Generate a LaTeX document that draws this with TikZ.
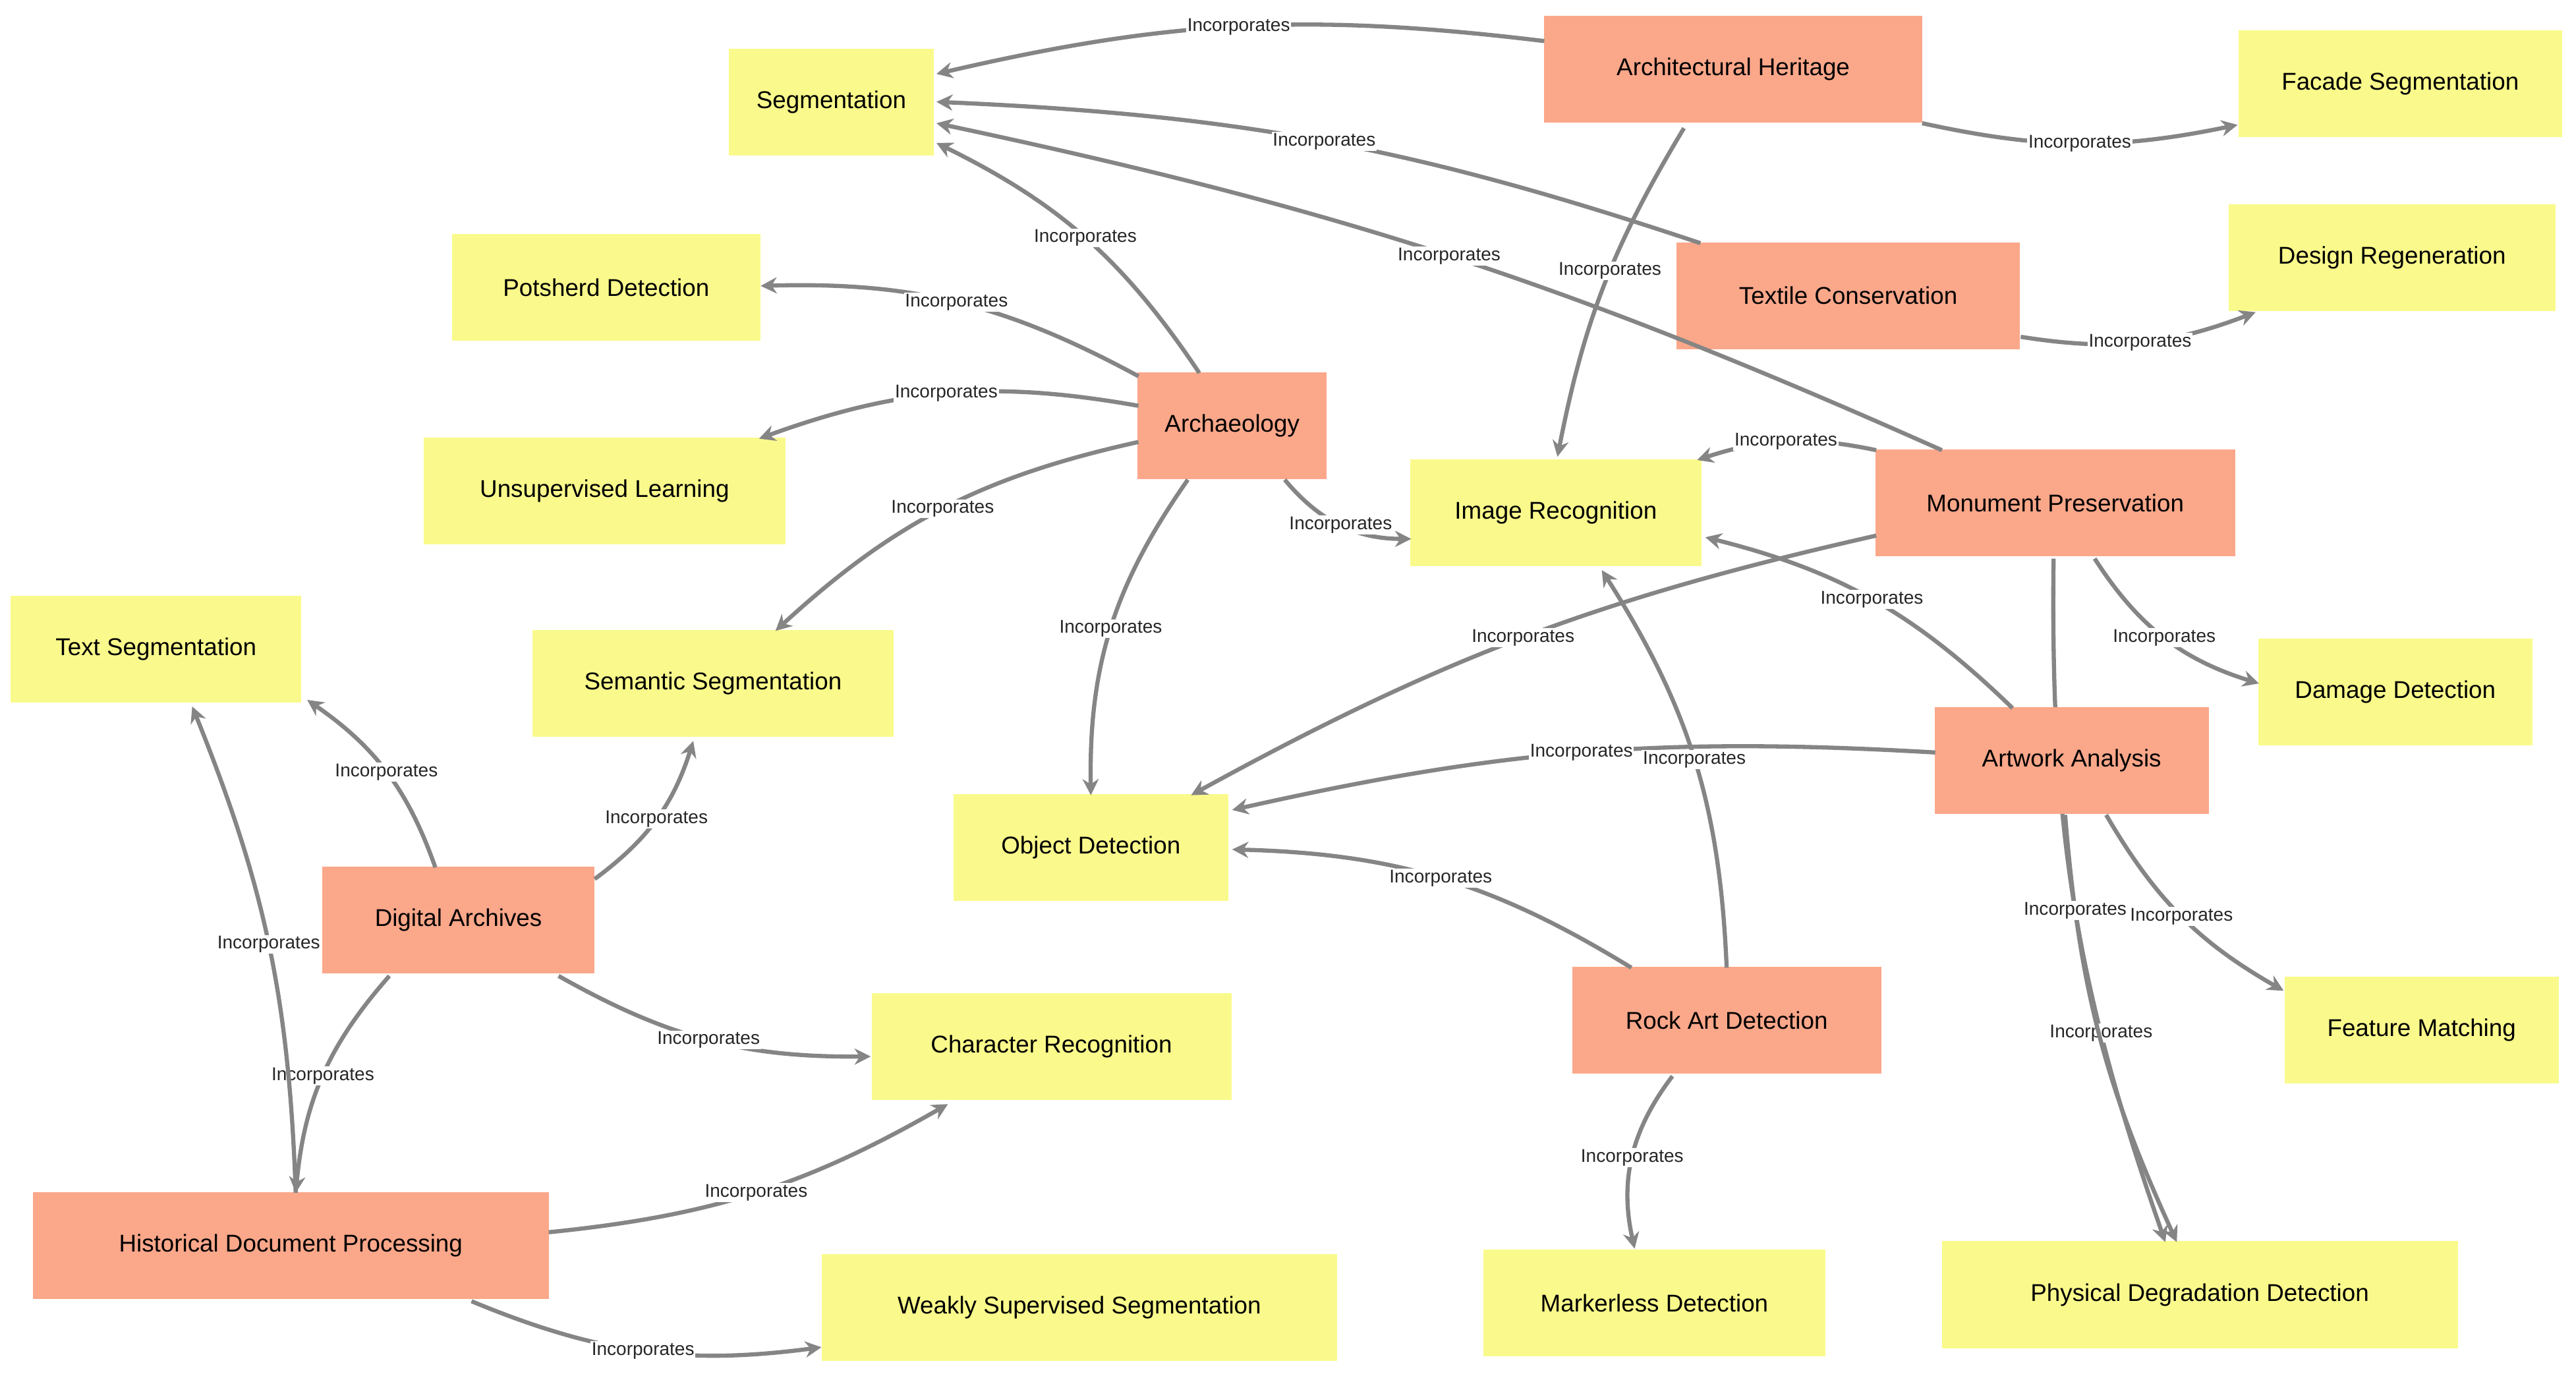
\documentclass[tikz,border=0pt]{standalone}
\usepackage{fontspec}
\setmainfont{Liberation Sans}
\usetikzlibrary{arrows.meta}
\definecolor{ylw}{HTML}{FAFA8C}
\definecolor{slm}{HTML}{FBA78A}
\definecolor{edg}{HTML}{858585}
\begin{document}
\begin{tikzpicture}[x=0.05cm,y=-0.05cm,
  box/.style={draw=none,minimum height=65*0.05cm,font=\fontsize{21}{25}\selectfont,inner sep=0pt},
  con/.style={box,fill=ylw},
  dom/.style={box,fill=slm},
  e/.style={draw=edg,line width=3.6pt,-{Stealth[length=14pt,width=14pt]},bend right=#1},
  e/.default=15,
  lb/.style={fill=white,inner sep=1pt,font=\fontsize{16}{18}\selectfont,text=black!85}]
\useasboundingbox (0,0) rectangle (1568,841);
\fill[white] (0,0) rectangle (1568,841);
% nodes
\node[con,minimum width=125*0.05cm] (seg) at (506,62) {Segmentation};
\node[dom,minimum width=230*0.05cm] (ah) at (1055,42) {Architectural Heritage};
\node[con,minimum width=197*0.05cm] (fac) at (1461,51) {Facade Segmentation};
\node[con,minimum width=188*0.05cm] (pot) at (369,175) {Potsherd Detection};
\node[con,minimum width=199*0.05cm] (des) at (1456,157) {Design Regeneration};
\node[dom,minimum width=209*0.05cm] (tex) at (1125,180) {Textile Conservation};
\node[dom,minimum width=115*0.05cm] (arc) at (750,259) {Archaeology};
\node[con,minimum width=220*0.05cm] (uns) at (368,299) {Unsupervised Learning};
\node[con,minimum width=177*0.05cm] (img) at (947,312) {Image Recognition};
\node[dom,minimum width=219*0.05cm] (mon) at (1251,306) {Monument Preservation};
\node[con,minimum width=177*0.05cm] (txs) at (95,395) {Text Segmentation};
\node[con,minimum width=220*0.05cm] (sem) at (434,416) {Semantic Segmentation};
\node[con,minimum width=167*0.05cm] (dam) at (1458,421) {Damage Detection};
\node[con,minimum width=167*0.05cm] (obj) at (664,516) {Object Detection};
\node[dom,minimum width=166*0.05cm] (dig) at (279,560) {Digital Archives};
\node[dom,minimum width=188*0.05cm] (rock) at (1051,621) {Rock Art Detection};
\node[con,minimum width=219*0.05cm] (chr) at (640,637) {Character Recognition};
\node[con,minimum width=167*0.05cm] (fea) at (1474,627) {Feature Matching};
\node[dom,minimum width=314*0.05cm] (his) at (177,758) {Historical Document Processing};
\node[con,minimum width=314*0.05cm] (wea) at (657,796) {Weakly Supervised Segmentation};
\node[con,minimum width=208*0.05cm] (mark) at (1007,793) {Markerless Detection};
\node[con,minimum width=314*0.05cm] (phy) at (1339,788) {Physical Degradation Detection};
% edges behind artwork node
\begin{scope}[on background layer/.style={}]
\draw[e=10] ([shift={(-1,34)}]mon.center) to node[lb,pos=0.7]{Incorporates} ([shift={(-21,-32)}]phy.center);
\end{scope}
\node[dom,minimum width=167*0.05cm] (art) at (1261,463) {Artwork Analysis};
% edges
\draw[e=10] ([shift={(-115,-17)}]ah.center) to node[lb]{Incorporates} ([shift={(64,-17)}]seg.center);
\draw[e=12] ([shift={(115,33)}]ah.center) to node[lb]{Incorporates} ([shift={(-99,25)}]fac.center);
\draw[e=10] ([shift={(-30,36)}]ah.center) to node[lb,pos=0.45]{Incorporates} ([shift={(1,-34)}]img.center);
\draw[e=8] ([shift={(-90,-32)}]tex.center) to node[lb]{Incorporates} ([shift={(64,0)}]seg.center);
\draw[e=15] ([shift={(105,25)}]tex.center) to node[lb]{Incorporates} ([shift={(-83,33)}]des.center);
\draw[e=6] ([shift={(-69,-32)}]mon.center) to node[lb]{Incorporates} ([shift={(64,13)}]seg.center);
\draw[e=15] ([shift={(-109,-32)}]mon.center) to node[lb]{Incorporates} ([shift={(86,-32)}]img.center);
\draw[e=8] ([shift={(-109,20)}]mon.center) to node[lb]{Incorporates} ([shift={(61,-32)}]obj.center);
\draw[e=20] ([shift={(24,34)}]mon.center) to node[lb]{Incorporates} ([shift={(-83,-5)}]dam.center);
\draw[e=10] ([shift={(-4,33)}]art.center) to node[lb,pos=0.2]{Incorporates} ([shift={(-14,-32)}]phy.center);
\draw[e=15] ([shift={(21,33)}]art.center) to node[lb]{Incorporates} ([shift={(-84,-24)}]fea.center);
\draw[e=15] ([shift={(-36,-32)}]art.center) to node[lb]{Incorporates} ([shift={(91,15)}]img.center);
\draw[e=8] ([shift={(-83,-5)}]art.center) to node[lb]{Incorporates} ([shift={(86,-23)}]obj.center);
\draw[e=15] ([shift={(0,-32)}]rock.center) to node[lb]{Incorporates} ([shift={(28,35)}]img.center);
\draw[e=15] ([shift={(-58,-32)}]rock.center) to node[lb]{Incorporates} ([shift={(86,1)}]obj.center);
\draw[e=25] ([shift={(-33,34)}]rock.center) to node[lb]{Incorporates} ([shift={(-12,-33)}]mark.center);
\draw[e=15] ([shift={(-20,-32)}]arc.center) to node[lb]{Incorporates} ([shift={(64,25)}]seg.center);
\draw[e=15] ([shift={(-57,-30)}]arc.center) to node[lb]{Incorporates} ([shift={(94,-1)}]pot.center);
\draw[e=15] ([shift={(-57,-12)}]arc.center) to node[lb]{Incorporates} ([shift={(94,-32)}]uns.center);
\draw[e=15] ([shift={(-57,10)}]arc.center) to node[lb]{Incorporates} ([shift={(38,-32)}]sem.center);
\draw[e=18] ([shift={(-27,33)}]arc.center) to node[lb]{Incorporates} ([shift={(0,-32)}]obj.center);
\draw[e=25] ([shift={(32,33)}]arc.center) to node[lb]{Incorporates} ([shift={(-88,16)}]img.center);
\draw[e=18] ([shift={(-14,-32)}]dig.center) to node[lb]{Incorporates} ([shift={(92,31)}]txs.center);
\draw[e=18] ([shift={(83,-25)}]dig.center) to node[lb]{Incorporates} ([shift={(-12,35)}]sem.center);
\draw[e=15] ([shift={(61,34)}]dig.center) to node[lb]{Incorporates} ([shift={(-110,6)}]chr.center);
\draw[e=18] ([shift={(-42,34)}]dig.center) to node[lb]{Incorporates} ([shift={(3,-32)}]his.center);
\draw[e=10] ([shift={(3,-32)}]his.center) to node[lb]{Incorporates} ([shift={(22,35)}]txs.center);
\draw[e=12] ([shift={(157,-8)}]his.center) to node[lb]{Incorporates} ([shift={(-63,35)}]chr.center);
\draw[e=15] ([shift={(110,34)}]his.center) to node[lb]{Incorporates} ([shift={(-157,24)}]wea.center);
\end{tikzpicture}
\end{document}
